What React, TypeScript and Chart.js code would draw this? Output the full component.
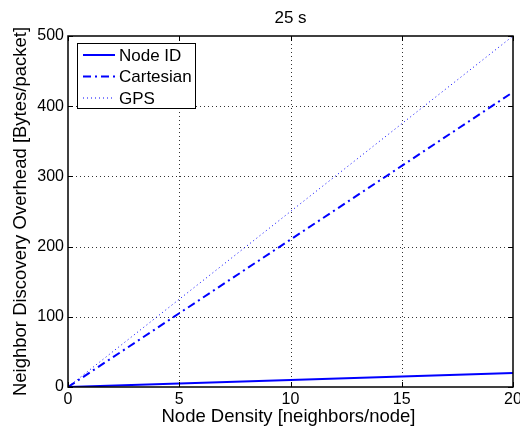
import React, { useEffect, useRef } from "react";
import { Chart, registerables } from "chart.js";

Chart.register(...registerables);

const xValues = [0, 5, 10, 15, 20];
const nodeIdValues = [0, 5, 10, 15, 20];
const cartesianValues = [0, 105, 210, 315, 420];
const gpsValues = [0, 125, 250, 375, 500];
const seriesLabels = ["Node ID", "Cartesian", "GPS"];
const xTicks = [0, 5, 10, 15, 20];
const yTicks = [0, 100, 200, 300, 400, 500];
const titleText = "25 s";
const xTitle = "Node Density [neighbors/node]";
const yTitle = "Neighbor Discovery Overhead [Bytes/packet]";

const FONT = "'Liberation Sans', Arial, Helvetica, sans-serif";
const BLUE = "#0000ff";
const DASHES = [[], [8, 4, 2, 4], [1, 3]];
const WIDTHS = [2, 2, 1];

const framePlugin = {
  id: "matlabFrame",
  beforeDatasetsDraw(chart: any) {
    const { ctx, chartArea: a, scales } = chart;
    const xs = scales.x, ys = scales.y;
    ctx.save();
    ctx.strokeStyle = "#333";
    ctx.lineWidth = 1;
    ctx.setLineDash([1, 3]);
    xTicks.forEach((t) => {
      const px = Math.round(xs.getPixelForValue(t)) + 0.5;
      if (t === xTicks[0] || t === xTicks[xTicks.length - 1]) return;
      ctx.beginPath();
      ctx.moveTo(px, a.top);
      ctx.lineTo(px, a.bottom);
      ctx.stroke();
    });
    yTicks.forEach((t) => {
      const py = Math.round(ys.getPixelForValue(t)) + 0.5;
      if (t === yTicks[0] || t === yTicks[yTicks.length - 1]) return;
      ctx.beginPath();
      ctx.moveTo(a.left, py);
      ctx.lineTo(a.right, py);
      ctx.stroke();
    });
    ctx.restore();
  },
  afterDatasetsDraw(chart: any) {
    const { ctx, chartArea: a, scales } = chart;
    const xs = scales.x, ys = scales.y;
    ctx.save();
    ctx.setLineDash([]);
    ctx.strokeStyle = "#000";
    ctx.lineWidth = 1.5;
    ctx.strokeRect(a.left, a.top, a.right - a.left, a.bottom - a.top);
    ctx.lineWidth = 1;
    const tl = 5;
    xTicks.forEach((t) => {
      const px = Math.round(xs.getPixelForValue(t)) + 0.5;
      ctx.beginPath();
      ctx.moveTo(px, a.bottom);
      ctx.lineTo(px, a.bottom - tl);
      ctx.moveTo(px, a.top);
      ctx.lineTo(px, a.top + tl);
      ctx.stroke();
    });
    yTicks.forEach((t) => {
      const py = Math.round(ys.getPixelForValue(t)) + 0.5;
      ctx.beginPath();
      ctx.moveTo(a.left, py);
      ctx.lineTo(a.left + tl, py);
      ctx.moveTo(a.right, py);
      ctx.lineTo(a.right - tl, py);
      ctx.stroke();
    });
    // tick labels
    ctx.fillStyle = "#000";
    ctx.font = `16px ${FONT}`;
    ctx.textAlign = "center";
    ctx.textBaseline = "middle";
    xTicks.forEach((t) => {
      ctx.fillText(String(t), xs.getPixelForValue(t), a.bottom + 13);
    });
    ctx.textAlign = "right";
    yTicks.forEach((t) => {
      ctx.fillText(String(t), a.left - 4, ys.getPixelForValue(t));
    });
    // titles
    ctx.font = `17px ${FONT}`;
    ctx.textAlign = "center";
    ctx.fillText(titleText, (a.left + a.right) / 2, 18);
    ctx.font = `18.5px ${FONT}`;
    ctx.fillText(xTitle, (a.left + a.right) / 2 - 2, 417);
    ctx.save();
    ctx.translate(21, (a.top + a.bottom) / 2);
    ctx.rotate(-Math.PI / 2);
    ctx.fillText(yTitle, 0, 0);
    ctx.restore();
    // legend
    const lx = 77, ly = 43, lw = 118, lh = 65;
    ctx.fillStyle = "#fff";
    ctx.fillRect(lx, ly, lw, lh);
    ctx.strokeStyle = "#000";
    ctx.lineWidth = 1;
    ctx.strokeRect(lx + 0.5, ly + 0.5, lw, lh);
    ctx.font = `17px ${FONT}`;
    ctx.textAlign = "left";
    seriesLabels.forEach((lab, i) => {
      const y = ly + 12 + i * 21.5;
      ctx.strokeStyle = BLUE;
      ctx.lineWidth = WIDTHS[i];
      ctx.setLineDash(DASHES[i]);
      ctx.beginPath();
      ctx.moveTo(83, y);
      ctx.lineTo(115, y);
      ctx.stroke();
      ctx.setLineDash([]);
      ctx.fillStyle = "#000";
      ctx.fillText(lab, 119, y + 1);
    });
    ctx.restore();
  },
};

export default function App() {
  const ref = useRef<HTMLCanvasElement>(null);
  useEffect(() => {
    document.body.style.margin = "0";
    const mk = (vals: number[]) => xValues.map((x, i) => ({ x, y: vals[i] }));
    const allVals = [nodeIdValues, cartesianValues, gpsValues];
    const chart = new Chart(ref.current!, {
      type: "line",
      data: {
        datasets: seriesLabels.map((lab, i) => ({
          label: lab,
          data: mk(allVals[i]),
          borderColor: BLUE,
          borderWidth: WIDTHS[i],
          borderDash: DASHES[i],
          pointRadius: 0,
          fill: false,
          tension: 0,
        })),
      },
      options: {
        animation: false,
        responsive: false,
        maintainAspectRatio: false,
        layout: { padding: { left: 68, right: 7, top: 36, bottom: 42 } },
        plugins: { legend: { display: false }, tooltip: { enabled: false }, title: { display: false } },
        scales: {
          x: { type: "linear", min: 0, max: 20, display: false },
          y: { type: "linear", min: 0, max: 500, display: false },
        },
      },
      plugins: [framePlugin],
    });
    return () => chart.destroy();
  }, []);
  return (
    <div style={{ width: 520, height: 429, background: "#fff" }}>
      <canvas ref={ref} width={520} height={429} style={{ display: "block" }} />
    </div>
  );
}
